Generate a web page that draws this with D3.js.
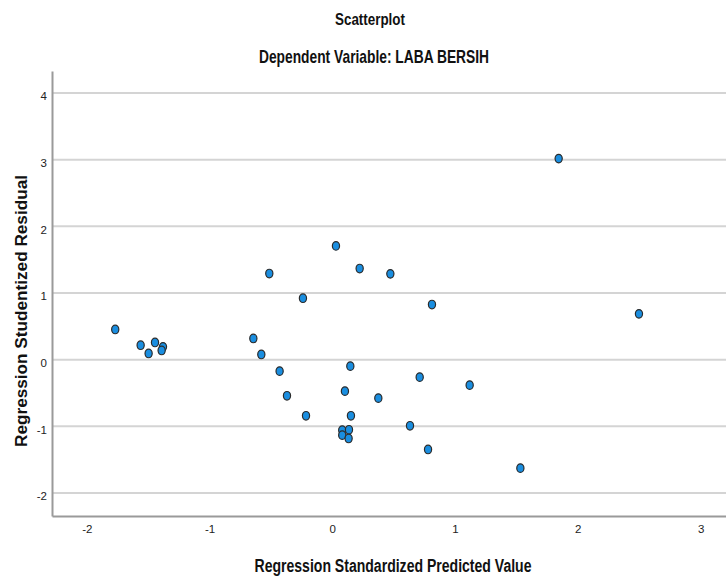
<html>
  <head>
    <meta charset="utf-8">
    <script src="https://d3js.org/d3.v7.min.js"></script>
  </head>
  <body style="margin:0;background:#fff;">

    <div id="chart" style="width:726px;height:578px;"></div>

    <script>
      // data
      const predicted = [-1.768, -1.561, -1.496, -1.444, -1.379, -1.390, -0.643, -0.578, -0.429, -0.369,
                         0.030, -0.513, 0.223, 0.473, -0.239, 0.812, 0.147, 0.712, 1.119, 0.103,
                         0.375, -0.214, 0.152, 0.633, 0.081, 0.136, 0.081, 0.133, 0.780, 1.844,
                         2.498, 1.532];
      const residual = [0.453, 0.217, 0.093, 0.258, 0.192, 0.138, 0.318, 0.078, -0.172, -0.542,
                        1.706, 1.292, 1.367, 1.287, 0.922, 0.827, -0.097, -0.262, -0.382, -0.472,
                        -0.577, -0.842, -0.842, -0.992, -1.057, -1.052, -1.132, -1.182, -1.347, 3.016,
                        0.687, -1.627];
      const xTicks = [-2, -1, 0, 1, 2, 3];
      const yTicks = [-2, -1, 0, 1, 2, 3, 4];

      const width = 726, height = 578;
      const margin = {top: 71, right: 0, bottom: 62, left: 52};
      const font = "'Liberation Sans', Arial, sans-serif";

      const svg = d3.create('svg')
        .attr('width', width)
        .attr('height', height)
        .style('font-family', font);

      const xScale = d3.scaleLinear()
        .domain([-2.283, 3.207])
        .range([margin.left, width - margin.right]);

      const yScale = d3.scaleLinear()
        .domain([-2.345, 4.33])
        .range([height - margin.bottom, margin.top]);

      // gridlines
      svg.append('g')
        .selectAll('line')
        .data(yTicks)
        .join('line')
          .attr('x1', margin.left)
          .attr('x2', width - margin.right)
          .attr('y1', d => yScale(d))
          .attr('y2', d => yScale(d))
          .attr('stroke', '#d4d4d4')
          .attr('stroke-width', 2);

      // x axis
      const xAxis = svg.append('g')
        .attr('transform', `translate(0, ${height - margin.bottom})`)
        .call(d3.axisBottom(xScale).tickValues(xTicks).tickSize(0).tickPadding(9)
          .tickFormat(d => String(d)));
      xAxis.select('.domain').attr('stroke', '#9a9a9a').attr('stroke-width', 2);

      // y axis
      const yAxis = svg.append('g')
        .attr('transform', `translate(${margin.left}, 0)`)
        .call(d3.axisLeft(yScale).tickValues(yTicks).tickSize(0).tickPadding(5)
          .tickFormat(d => String(d)));
      yAxis.select('.domain').attr('stroke', '#9a9a9a').attr('stroke-width', 2);
      yAxis.selectAll('.tick text').attr('dy', '0.6em');

      svg.selectAll('.tick text')
        .attr('font-family', font)
        .attr('font-size', 11.5)
        .attr('fill', '#222');

      // points
      const pts = predicted.map((p, i) => ({x: p, y: residual[i]}));
      svg.append('g')
        .selectAll('ellipse')
        .data(pts)
        .join('ellipse')
          .attr('cx', d => xScale(d.x))
          .attr('cy', d => yScale(d.y))
          .attr('rx', 3.6)
          .attr('ry', 4.3)
          .attr('fill', '#1a8ee0')
          .attr('stroke', '#2b2b2b')
          .attr('stroke-width', 1.2);

      // titles
      svg.append('text')
        .attr('x', 370).attr('y', 25)
        .attr('text-anchor', 'middle')
        .attr('font-size', 16).attr('font-weight', 'bold')
        .attr('textLength', 70).attr('lengthAdjust', 'spacingAndGlyphs')
        .attr('fill', '#111')
        .text('Scatterplot');

      svg.append('text')
        .attr('x', 374).attr('y', 63)
        .attr('text-anchor', 'middle')
        .attr('font-size', 19).attr('font-weight', 'bold')
        .attr('textLength', 230).attr('lengthAdjust', 'spacingAndGlyphs')
        .attr('fill', '#111')
        .text('Dependent Variable: LABA BERSIH');

      svg.append('text')
        .attr('x', 393).attr('y', 572)
        .attr('text-anchor', 'middle')
        .attr('font-size', 18).attr('font-weight', 'bold')
        .attr('textLength', 277).attr('lengthAdjust', 'spacingAndGlyphs')
        .attr('fill', '#111')
        .text('Regression Standardized Predicted Value');

      svg.append('text')
        .attr('transform', 'translate(27, 311) rotate(-90)')
        .attr('text-anchor', 'middle')
        .attr('font-size', 16).attr('font-weight', 'bold')
        .attr('textLength', 272).attr('lengthAdjust', 'spacingAndGlyphs')
        .attr('fill', '#111')
        .text('Regression Studentized Residual');

      document.getElementById("chart").appendChild(svg.node());
    </script>
  </body>
</html>
